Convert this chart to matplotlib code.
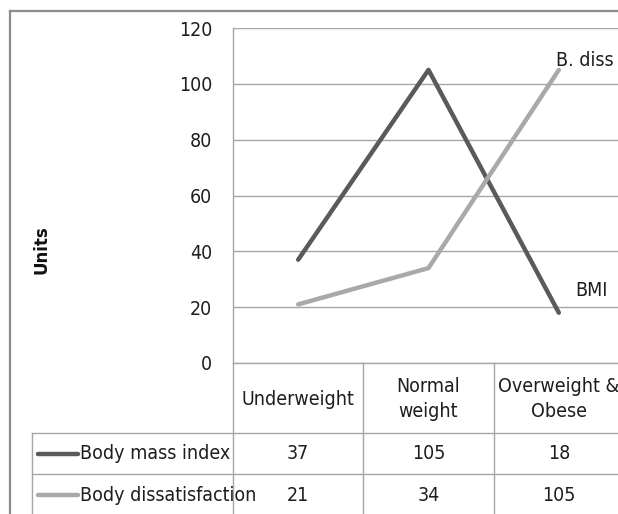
import matplotlib
matplotlib.use("Agg")
import matplotlib.pyplot as plt
from matplotlib import font_manager
from matplotlib.lines import Line2D

# --- data -------------------------------------------------------------------
categories = ["Underweight", "Normal\nweight", "Overweight &\nObese"]
series_names = ["Body mass index", "Body dissatisfaction"]
bmi = [37, 105, 18]
body_diss = [21, 34, 105]
end_labels = ["BMI", "B. diss"]
yticks = [0, 20, 40, 60, 80, 100, 120]

# --- fonts ------------------------------------------------------------------
names = {f.name for f in font_manager.fontManager.ttflist}
family = "Liberation Sans Narrow" if "Liberation Sans Narrow" in names else "DejaVu Sans"
plt.rcParams["font.family"] = [family, "DejaVu Sans"]
plt.rcParams["font.stretch"] = "condensed"

W, H = 618, 514
fig = plt.figure(figsize=(W / 100, H / 100), dpi=100)

def fx(px):
    return px / W

def fy(py):
    return 1 - py / H

# plot area in pixels
left, right, top, bottom = 233, 624, 28, 363
ax = fig.add_axes([fx(left), fy(bottom), fx(right) - fx(left), fy(top) - fy(bottom)])

dark = "#5a5a5a"
light = "#a9a9a9"
grid = "#a6a6a6"
txt = "#1e1e1e"
fs = 14

x = list(range(len(categories)))
ax.plot(x, bmi, color=dark, lw=3.2, solid_capstyle="round")
ax.plot(x, body_diss, color=light, lw=3.2, solid_capstyle="round")

ax.set_xlim(-0.5, 2.5)
ax.set_ylim(0, 120)
ax.set_yticks(yticks)
ax.set_xticks([])
ax.yaxis.grid(True, color=grid, lw=1.0)
ax.set_axisbelow(True)
ax.tick_params(axis="y", length=0, pad=15, labelsize=fs, labelcolor=txt)
for s in ["top", "right"]:
    ax.spines[s].set_visible(False)
for s in ["left", "bottom"]:
    ax.spines[s].set_color(grid)
    ax.spines[s].set_linewidth(1.0)

# end labels
ax.annotate(end_labels[1], (x[-1], body_diss[-1]), xytext=(-3, 9),
            textcoords="offset pixels", ha="left", va="center", fontsize=fs, color=txt)
ax.annotate(end_labels[0], (x[-1], bmi[-1]), xytext=(16, 22),
            textcoords="offset pixels", ha="left", va="center", fontsize=fs, color=txt)

fig.text(fx(42), fy(250), "Units", rotation=90, ha="center", va="center",
         fontsize=12, fontweight="bold", fontstretch="normal", color="#111111")

# --- data table below the plot ----------------------------------------------
tab_top, row1, row2, tab_bot = 363, 433, 474, 516
tax = fig.add_axes([fx(left), fy(tab_bot), fx(right) - fx(left), fy(tab_top) - fy(tab_bot)])
tax.set_xlim(-0.5, 2.5)
tax.set_ylim(tab_bot, tab_top)
tax.axis("off")

col_w = (right - left) / 3.0
label_left = -0.5 - (left - 32) / col_w

kw = dict(color=grid, lw=1.0, clip_on=False)
tax.plot([-0.5, -0.5], [tab_top, tab_bot], **kw)
for xv in [0.5, 1.5]:
    tax.plot([xv, xv], [tab_top, tab_bot], **kw)
tax.plot([label_left, label_left], [row1, tab_bot], **kw)
for yv in [row1, row2]:
    tax.plot([label_left, 2.5], [yv, yv], **kw)

for i, cat in enumerate(categories):
    tax.text(i, (tab_top + row1) / 2 + 1, cat, ha="center", va="center",
             fontsize=fs, color=txt, linespacing=1.35)

rows = [(series_names[0], bmi, dark, row1, row2), (series_names[1], body_diss, light, row2, tab_bot)]
for name, vals, col, y0, y1 in rows:
    yc = (y0 + y1) / 2
    key_l = label_left + 6 / col_w
    key_r = label_left + 46 / col_w
    tax.plot([key_l, key_r], [yc, yc], color=col, lw=3.2, clip_on=False, solid_capstyle="round")
    tax.text(key_r + 2 / col_w, yc, name, ha="left", va="center", fontsize=fs, color=txt)
    for i, v in enumerate(vals):
        tax.text(i, yc, str(v), ha="center", va="center", fontsize=fs, color=txt)

# outer frame of the original chart
fig.add_artist(Line2D([fx(10), fx(10)], [fy(11), 0], transform=fig.transFigure, color="#8c8c8c", lw=1.6))
fig.add_artist(Line2D([fx(10), 1], [fy(11), fy(11)], transform=fig.transFigure, color="#8c8c8c", lw=1.6))

fig.savefig("out.png", dpi=100)
